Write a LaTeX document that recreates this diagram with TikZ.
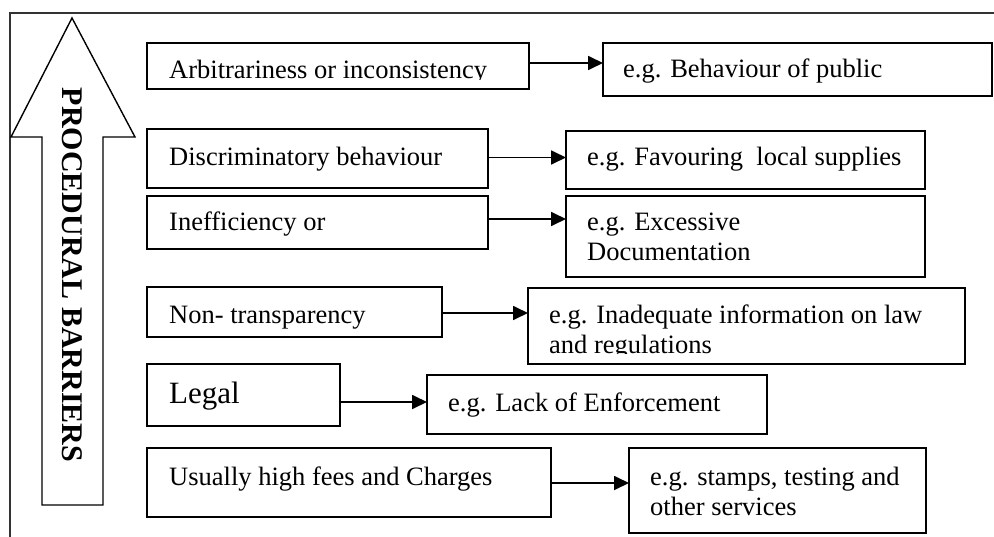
\documentclass[tikz,border=0pt]{standalone}
\usepackage{fontspec}
\setmainfont{Liberation Serif}
\usetikzlibrary{arrows.meta,calc}
\begin{document}
\begin{tikzpicture}[x=1pt,y=-1pt,
  box/.style={draw=black, line width=1.8pt, inner sep=0pt, outer sep=0pt, anchor=north west},
  lbl/.style={font=\fontsize{26.5}{30}\selectfont, inner sep=0pt, anchor=base west},
  conn/.style={line width=1.8pt, -{Triangle[length=15pt,width=14pt]}},
  frame/.style={line width=1.3pt, draw=black!80},
  bigarrow/.style={line width=1.4pt, draw=black}]
\useasboundingbox (0,0) rectangle (994,536);
% outer frame (left and top edges visible)
\draw[frame] (10,540) -- (10,13) -- (1000,13);
% big arrow
\draw[bigarrow] (72,18) -- (135,137) -- (103,137) -- (103,505) -- (42,505) -- (42,137) -- (11,137) -- cycle;
\node[rotate=-90, inner sep=0pt, font=\bfseries\fontsize{30}{36}\selectfont] (title) at (72.5,275) {PROCEDURAL BARRIERS};
% boxes
\node[box, minimum width=382pt, minimum height=46pt] (a1) at (147,43) {};
\node[box, minimum width=389pt, minimum height=53pt] (b1) at (603,43) {};
\node[box, minimum width=341pt, minimum height=59pt] (a2) at (147,129) {};
\node[box, minimum width=359pt, minimum height=58pt] (b2) at (566,131) {};
\node[box, minimum width=341pt, minimum height=53pt] (a3) at (147,196) {};
\node[box, minimum width=359pt, minimum height=81pt] (b3) at (566,196) {};
\node[box, minimum width=295pt, minimum height=50pt] (a4) at (147,287) {};
\node[box, minimum width=437pt, minimum height=76pt] (b4) at (528,288) {};
\node[box, minimum width=193pt, minimum height=62pt] (a5) at (147,364) {};
\node[box, minimum width=340pt, minimum height=59pt] (b5) at (427,375) {};
\node[box, minimum width=404pt, minimum height=69pt] (a6) at (147,448) {};
\node[box, minimum width=297pt, minimum height=85pt] (b6) at (629,448) {};
% texts
\begin{scope}
\clip (148,44) rectangle (528,79.5);
\node[lbl] (t1) at (169,78) {Arbitrariness or inconsistency};
\end{scope}
\node[lbl] (u1) at (623,77) {e.g. Behaviour of public};
\node[lbl] (t2) at (169,165) {Discriminatory behaviour};
\node[lbl] (u2) at (587,165) {e.g. Favouring\ \ local supplies};
\node[lbl] (t3) at (169,230) {Inefficiency or};
\node[lbl] (u3) at (587,230) {\begin{tabular}[t]{@{}l@{}}e.g. Excessive\\Documentation\end{tabular}};
\node[lbl] (t4) at (169,323) {Non- transparency};
\begin{scope}
\clip (529,289) rectangle (964,353.5);
\node[lbl] (u4) at (549,323) {\begin{tabular}[t]{@{}l@{}}e.g. Inadequate information on law\\and regulations\end{tabular}};
\end{scope}
\node[lbl, font=\fontsize{31}{36}\selectfont] (t5) at (169,403) {Legal};
\node[lbl] (u5) at (448,411) {e.g. Lack of Enforcement};
\node[lbl] (t6) at (169,485) {Usually high fees and Charges};
\node[lbl] (u6) at (650,485) {\begin{tabular}[t]{@{}l@{}}e.g. stamps, testing and\\other services\end{tabular}};
% connectors
\coordinate (o1) at ($(a1.east)+(0,-3)$);
\coordinate (o2) at ($(a2.east)+(0,-1)$);
\coordinate (o3) at ($(a3.east)+(0,-3.5)$);
\coordinate (o4) at ($(a4.east)+(0,1)$);
\coordinate (o5) at ($(a5.east)+(0,7)$);
\coordinate (o6) at ($(a6.east)+(0,0.5)$);
\draw[conn] (o1) -- (o1 -| b1.west);
\draw[conn] (o2) -- (o2 -| b2.west);
\draw[conn] (o3) -- (o3 -| b3.west);
\draw[conn] (o4) -- (o4 -| b4.west);
\draw[conn] (o5) -- (o5 -| b5.west);
\draw[conn] (o6) -- (o6 -| b6.west);
\end{tikzpicture}
\end{document}
